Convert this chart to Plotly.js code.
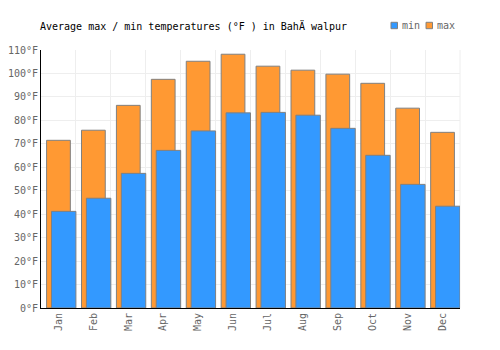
<!DOCTYPE html>
<html>
<head>
<meta charset="utf-8">
<script src="https://cdn.plot.ly/plotly-3.0.1.min.js"></script>
<style>html,body{margin:0;padding:0;background:#fff;}#chart{width:500px;height:350px;}</style>
</head>
<body>
<div id="chart"></div>
<script>
const months = ["Jan","Feb","Mar","Apr","May","Jun","Jul","Aug","Sep","Oct","Nov","Dec"];
const maxTemps = [71.5, 75.8, 86.4, 97.5, 105.2, 108.2, 103.1, 101.4, 99.7, 95.8, 85.2, 74.9];
const minTemps = [41.2, 46.8, 57.4, 67.2, 75.5, 83.2, 83.4, 82.2, 76.6, 65.1, 52.7, 43.4];
const seriesNames = ["min", "max"];
const seriesColors = ["#3399ff", "#ff9933"];
const titleText = "Average max / min temperatures (\u00B0F ) in Bah\u00C4 walpur";

const mono = "DejaVu Sans Mono, monospace";
const traces = [
  {
    type: "bar", name: seriesNames[1], x: months, y: maxTemps,
    width: 0.68, offset: -0.34,
    marker: {color: seriesColors[1], line: {color: "#808080", width: 1}},
    hoverinfo: "none"
  },
  {
    type: "bar", name: seriesNames[0], x: months, y: minTemps,
    width: 0.7, offset: -0.2,
    marker: {color: seriesColors[0], line: {color: "#808080", width: 1}},
    hoverinfo: "none"
  }
];

// custom compact legend (swatch + real text)
const legendSwatchX = [0.8353, 0.9189];
const legendTextX = [0.8568, 0.9403];
const shapes = [
  {type: "line", xref: "paper", yref: "paper", x0: 1, x1: 1, y0: 0, y1: 1, line: {color: "#eeeeee", width: 1}, layer: "below"}
];
const annotations = [];
seriesNames.forEach((n, i) => {
  shapes.push({type: "rect", xref: "paper", yref: "paper", x0: legendSwatchX[i], x1: legendSwatchX[i] + 0.0155,
    y0: 1.0826, y1: 1.1074, fillcolor: seriesColors[i], line: {color: "#808080", width: 1}});
  annotations.push({xref: "paper", yref: "paper", x: legendTextX[i], y: 1.095, xanchor: "left", yanchor: "middle",
    text: n, showarrow: false, font: {family: mono, size: 10, color: "#666"}});
});

const layout = {
  width: 500, height: 350,
  margin: {l: 41, r: 40, t: 50, b: 42},
  paper_bgcolor: "#fff", plot_bgcolor: "#fff",
  barmode: "overlay",
  title: {text: titleText, font: {family: mono, size: 10, color: "#000"}, x: 40/500, xanchor: "left", y: 1 - 26/350, yanchor: "middle"},
  font: {family: mono, size: 10, color: "#666"},
  showlegend: false,
  xaxis: {
    type: "category", tickson: "boundaries", showgrid: true, gridcolor: "#eeeeee", gridwidth: 1,
    showline: true, linecolor: "#000", linewidth: 1, ticks: "", tickangle: -90,
    tickfont: {family: mono, size: 10, color: "#666"}, range: [-0.5, 11.5], fixedrange: true
  },
  yaxis: {
    range: [0, 110], dtick: 10, tick0: 0, ticksuffix: "°F", showgrid: true, gridcolor: "#eeeeee", gridwidth: 1,
    showline: true, linecolor: "#000", linewidth: 1, ticks: "", zeroline: false,
    tickfont: {family: mono, size: 10, color: "#666"}, fixedrange: true
  },
  shapes: shapes,
  annotations: annotations
};
Plotly.newPlot("chart", traces, layout, {staticPlot: true, displayModeBar: false});
</script>
</body>
</html>
